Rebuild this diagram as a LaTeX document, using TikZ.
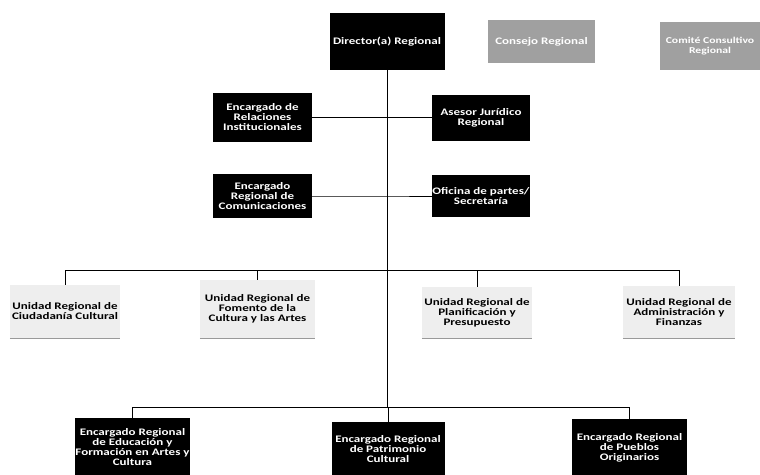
\documentclass[tikz,border=0pt]{standalone}
\usepackage{fontspec}
\setmainfont{Carlito}[FakeStretch=1.3]
\usepackage{tikz}
\usetikzlibrary{positioning}
\definecolor{consejo}{RGB}{160,160,160}
\definecolor{unidad}{RGB}{238,238,238}

\begin{document}
\begin{tikzpicture}[x=1pt,y=-1pt,
  cargo/.style={fill=black,text=white,font=\fontsize{10}{10}\selectfont\bfseries,align=center,inner sep=0pt},
  consejo/.style={fill=consejo,text=white,font=\fontsize{10}{10}\selectfont\bfseries,align=center,inner sep=0pt},
  unidad/.style={fill=unidad,text=black,font=\fontsize{10}{10}\selectfont\bfseries,align=center,inner sep=0pt},
  linea/.style={draw=black,line width=1pt}]
\useasboundingbox (0,0) rectangle (760,474);

% direccion
\node [cargo,minimum width=115,minimum height=57] (dir) at (387,41.5) {Director(a) Regional};
\node [consejo,minimum width=107,minimum height=43] (cons) at (541.5,41.5) {Consejo Regional};
\node [consejo,minimum width=100,minimum height=48,font=\fontsize{9}{10}\selectfont\bfseries] (comi) at (710,46) {Comité Consultivo\\Regional};

% staff
\node [cargo,minimum width=99,minimum height=49] (rel) at (262.5,117.5) {Encargado de\\Relaciones\\Institucionales};
\node [cargo,minimum width=98,minimum height=46] (ase) at (481,117.5) {Asesor Jurídico\\Regional};
\node [cargo,minimum width=99,minimum height=44] (com) at (262.5,196) {Encargado\\Regional de\\Comunicaciones};
\node [cargo,minimum width=98,minimum height=42] (ofi) at (481,196) {Oficina de partes/\\Secretaría};

% unidades
\node [unidad,minimum width=110,minimum height=53] (u1) at (65,311.5) {Unidad Regional de\\Ciudadanía Cultural};
\node [unidad,minimum width=115,minimum height=58] (u2) at (257.5,309) {Unidad Regional de\\Fomento de la\\Cultura y las Artes};
\node [unidad,minimum width=110,minimum height=51] (u3) at (477,312.5) {Unidad Regional de\\Planificación y\\Presupuesto};
\node [unidad,minimum width=112,minimum height=52] (u4) at (679,312) {Unidad Regional de\\Administración y\\Finanzas};
\foreach \n in {u1,u2,u3,u4}
  \draw [gray!80,line width=1pt] (\n.south west) -- (\n.south east);

% encargados
\node [cargo,minimum width=115,minimum height=58] (e1) at (132.5,447) {Encargado Regional\\de Educación y\\Formación en Artes y\\Cultura};
\node [cargo,minimum width=113,minimum height=54] (e2) at (388,449) {Encargado Regional\\de Patrimonio\\Cultural};
\node [cargo,minimum width=115,minimum height=57] (e3) at (629.5,447.5) {Encargado Regional\\de Pueblos\\Originarios};

% lineas
\coordinate (bus1) at (387,270);
\coordinate (bus2) at (387,407);
\draw [linea] (dir.south) -- (bus2);
\draw [linea] (rel.east) -- (rel.east -| dir.south) -- (ase.west);
\draw [linea] (com.east) -- (com.east -| dir.south) -- (ofi.west);
\draw [linea] (u1.north) -- (u1.north |- bus1) -- (u4.north |- bus1) -- (u4.north);
\draw [linea] (u2.north) -- (u2.north |- bus1);
\draw [linea] (u3.north) -- (u3.north |- bus1);
\draw [linea] (e1.north) -- (e1.north |- bus2) -- (e3.north |- bus2) -- (e3.north);
\draw [linea] (e2.north) -- (e2.north |- bus2);
\end{tikzpicture}
\end{document}
